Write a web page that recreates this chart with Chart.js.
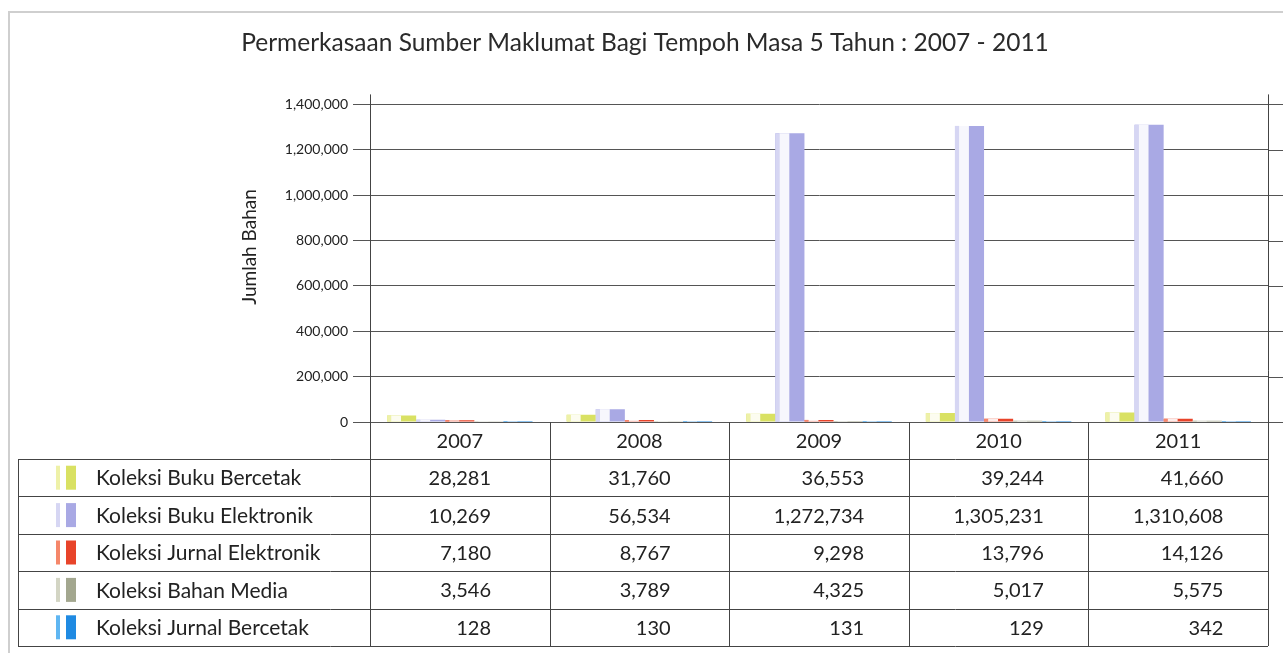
<!DOCTYPE html>
<html>
<head>
<meta charset="utf-8">
<script src="https://cdn.jsdelivr.net/npm/chart.js@4.4.1/dist/chart.umd.min.js"></script>
<style>
  html, body { margin: 0; padding: 0; background: #fff; }
  canvas { display: block; }
</style>
</head>
<body>
<canvas id="chart" width="1283" height="653"></canvas>
<script>
// Data tahunan (dibaca dari jadual)
const years = ["2007", "2008", "2009", "2010", "2011"];
const seriesNames = [
    "Koleksi Buku Bercetak",
    "Koleksi Buku Elektronik",
    "Koleksi Jurnal Elektronik",
    "Koleksi Bahan Media",
    "Koleksi Jurnal Bercetak"
];
const bukuBercetak = [28281, 31760, 36553, 39244, 41660];
const bukuElektronik = [10269, 56534, 1272734, 1305231, 1310608];
const jurnalElektronik = [7180, 8767, 9298, 13796, 14126];
const bahanMedia = [3546, 3789, 4325, 5017, 5575];
const jurnalBercetak = [128, 130, 131, 129, 342];
const yTicks = [0, 200000, 400000, 600000, 800000, 1000000, 1200000, 1400000];
const yTitle = "Jumlah Bahan";

const seriesValues = [bukuBercetak, bukuElektronik, jurnalElektronik, bahanMedia, jurnalBercetak];
// warna: [jalur cerah, warna utama]
const colors = [
    ["#eef1a8", "#d9e163"],
    ["#d6d6f3", "#a9a9e4"],
    ["#f5876a", "#e8442a"],
    ["#d3d5c4", "#a3a78f"],
    ["#5fb6f2", "#1f8ae2"]
];

const FONT = "Lato, 'Open Sans', sans-serif";
const fmt = v => Number(v).toLocaleString("en-US");

// Bingkai luar + tajuk paksi Y + sambungan garis grid
const framePlugin = {
    id: "frame",
    beforeDraw(chart) {
        const ctx = chart.ctx;
        ctx.save();
        ctx.strokeStyle = "#cfcfcf";
        ctx.lineWidth = 2;
        ctx.beginPath();
        ctx.moveTo(9, 653);
        ctx.lineTo(9, 12);
        ctx.lineTo(1283, 12);
        ctx.stroke();
        ctx.restore();
    },
    afterDraw(chart) {
        const ctx = chart.ctx;
        const a = chart.chartArea;
        const y = chart.scales.y;
        ctx.save();
        ctx.strokeStyle = "#555";
        ctx.lineWidth = 1;
        ctx.beginPath();
        yTicks.forEach(v => {
            const yy = Math.round(y.getPixelForValue(v)) + 0.5;
            ctx.moveTo(a.right, yy);
            ctx.lineTo(1283, yy);
        });
        ctx.stroke();

        ctx.translate(250, 247);
        ctx.rotate(-Math.PI / 2);
        ctx.fillStyle = "#222";
        ctx.font = "19px " + FONT;
        ctx.textAlign = "center";
        ctx.textBaseline = "middle";
        ctx.fillText(yTitle, 0, 0);
        ctx.restore();
    }
};

// Kesan "3D" pada setiap bar
const stripePlugin = {
    id: "stripes",
    afterDatasetsDraw(chart) {
        const ctx = chart.ctx;
        ctx.save();
        chart.data.datasets.forEach((ds, di) => {
            chart.getDatasetMeta(di).data.forEach(bar => {
                const w = bar.width, left = bar.x - w / 2;
                const top = Math.min(bar.y, bar.base), h = Math.abs(bar.base - bar.y);
                ctx.fillStyle = colors[di][0];
                ctx.fillRect(left, top, w * 0.14, h);
                ctx.fillStyle = "rgba(255,255,255,0.9)";
                ctx.fillRect(left + w * 0.14, top, w * 0.34, h);
            });
        });
        ctx.restore();
    }
};

// Jadual data di bawah paksi
const tablePlugin = {
    id: "dataTable",
    afterDraw(chart) {
        const ctx = chart.ctx;
        const a = chart.chartArea;
        const x = chart.scales.x;
        const colW = a.width / years.length;
        const headTop = a.bottom;
        const headH = 37;
        const rowH = 37.4;
        const legendLeft = 18;
        const bottom = headTop + headH + rowH * seriesNames.length;

        ctx.save();
        ctx.strokeStyle = "#444";
        ctx.lineWidth = 1;

        // garisan menegak
        ctx.beginPath();
        ctx.moveTo(a.left + 0.5, a.top - 10);
        ctx.lineTo(a.left + 0.5, bottom);
        ctx.moveTo(a.right + 0.5, a.top - 10);
        ctx.lineTo(a.right + 0.5, bottom);
        for (let i = 1; i < years.length; i++) {
            const xx = Math.round(a.left + colW * i) + 0.5;
            ctx.moveTo(xx, headTop);
            ctx.lineTo(xx, bottom);
        }
        ctx.moveTo(legendLeft + 0.5, headTop + headH);
        ctx.lineTo(legendLeft + 0.5, bottom);
        // garisan melintang
        for (let r = 0; r <= seriesNames.length; r++) {
            const yy = Math.round(headTop + headH + rowH * r) + 0.5;
            ctx.moveTo(legendLeft, yy);
            ctx.lineTo(a.right, yy);
        }
        ctx.stroke();

        // tajuk lajur (tahun)
        ctx.fillStyle = "#222";
        ctx.font = "20px " + FONT;
        ctx.textAlign = "center";
        ctx.textBaseline = "middle";
        years.forEach((yr, i) => {
            ctx.fillText(yr, x.getPixelForValue(i), headTop + headH / 2 + 1);
        });

        // nilai, rata kanan pada nombor terlebar yang dipusatkan
        years.forEach((yr, i) => {
            const cx = x.getPixelForValue(i);
            let maxW = 0;
            seriesValues.forEach(vals => {
                maxW = Math.max(maxW, ctx.measureText(fmt(vals[i])).width);
            });
            const rightEdge = cx + maxW / 2;
            ctx.textAlign = "right";
            seriesValues.forEach((vals, r) => {
                const cy = headTop + headH + rowH * r + rowH / 2 + 1;
                ctx.fillText(fmt(vals[i]), rightEdge, cy);
            });
        });

        // label siri + petak warna
        ctx.textAlign = "left";
        ctx.font = "21px " + FONT;
        seriesNames.forEach((name, r) => {
            const cy = headTop + headH + rowH * r + rowH / 2;
            ctx.fillStyle = colors[r][0];
            ctx.fillRect(56, cy - 12, 4, 24);
            ctx.fillStyle = colors[r][1];
            ctx.fillRect(66, cy - 12, 10, 24);
            ctx.fillStyle = "#222";
            ctx.fillText(name, 96, cy + 1);
        });
        ctx.restore();
    }
};

const ctx = document.getElementById("chart").getContext("2d");
new Chart(ctx, {
    type: "bar",
    data: {
        labels: years,
        datasets: seriesNames.map((name, i) => ({
            label: name,
            data: seriesValues[i],
            backgroundColor: colors[i][1],
            borderWidth: 0,
            categoryPercentage: 0.81,
            barPercentage: 1.0
        }))
    },
    options: {
        responsive: false,
        animation: false,
        layout: { padding: { left: 22, right: 15, top: 0, bottom: 231 } },
        plugins: {
            legend: { display: false },
            tooltip: { enabled: false },
            title: {
                display: true,
                text: "Permerkasaan Sumber Maklumat Bagi Tempoh Masa 5 Tahun : 2007 - 2011",
                color: "#2a2a2a",
                font: { family: FONT, size: 24.5, weight: "normal" },
                padding: { top: 28, bottom: 47 }
            }
        },
        scales: {
            x: {
                display: false
            },
            y: {
                min: 0,
                max: 1400000,
                afterBuildTicks: s => { s.ticks = yTicks.map(v => ({ value: v })); },
                afterFit: s => { s.width = 348; },
                ticks: {
                    color: "#222",
                    font: { family: FONT, size: 14 },
                    padding: 5,
                    callback: v => fmt(v)
                },
                grid: { color: "#555", lineWidth: 1, tickLength: 17 },
                border: { color: "#333" }
            }
        }
    },
    plugins: [framePlugin, stripePlugin, tablePlugin]
});
</script>
</body>
</html>
